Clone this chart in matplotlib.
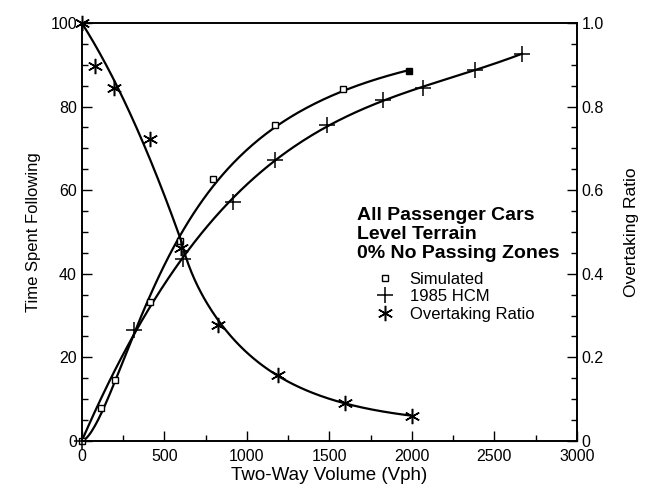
import numpy as np
import matplotlib
matplotlib.use('Agg')
import matplotlib.pyplot as plt
from matplotlib.ticker import MultipleLocator, FuncFormatter

plt.rcParams['font.family'] = ['Liberation Sans', 'DejaVu Sans']

# simulated time spent following (%)
sim_vol = [0, 115, 200, 412, 594, 794, 1170, 1582, 1980]
sim_tsf = [0, 7.9, 14.5, 33.3, 47.8, 62.6, 75.6, 84.2, 88.5]

# 1985 HCM time spent following (%)
hcm_vol = [0, 315, 612, 915, 1170, 1485, 1824, 2067, 2382, 2667]
hcm_tsf = [0, 26.6, 43.5, 57.2, 67.2, 75.6, 81.6, 84.4, 88.8, 92.6]

# overtaking ratio
ot_vol = [0, 79, 194, 412, 600, 824, 1188, 1594, 2000]
ot_ratio = [1.0, 0.897, 0.845, 0.722, 0.462, 0.278, 0.158, 0.091, 0.060]


def powfit(x, y, powers):
    # least squares on the given powers of x (x in thousands), no extra intercept
    A = np.column_stack([x ** p for p in powers])
    coef = np.linalg.lstsq(A, y, rcond=None)[0]
    return lambda t: np.column_stack([t ** p for p in powers]) @ coef


def hillfit(x, y, w):
    # y = a * x^n / (k^n + x^n), grid over n and k, a by weighted least squares
    best = None
    for n in np.linspace(1.0, 1.6, 25):
        for k in np.linspace(0.2, 2.0, 181):
            g = x ** n / (k ** n + x ** n)
            a = (w * g @ y) / (w * g @ g)
            r = np.sum(w * (a * g - y) ** 2)
            if best is None or r < best[0]:
                best = (r, a, n, k)
    _, a, n, k = best
    return lambda t: a * t ** n / (k ** n + t ** n)


fig = plt.figure(figsize=(6.49, 4.98), dpi=100)
ax = fig.add_axes([0.126, 0.1145, 0.763, 0.8395])
ax2 = ax.twinx()

lw = 1.6
# smooth fitted curves
wts = np.ones(len(sim_vol))
wts[-1] = 6.0
f = hillfit(np.array(sim_vol) / 1000.0, np.array(sim_tsf), wts)
xx = np.linspace(0, max(sim_vol), 200)
ax.plot(xx, f(xx / 1000.0), color='black', lw=lw)

f = powfit(np.array(hcm_vol) / 1000.0, np.array(hcm_tsf), [1, 2, 3])
xx = np.linspace(0, max(hcm_vol), 200)
ax.plot(xx, f(xx / 1000.0), color='black', lw=lw)

ov = np.array(ot_vol) / 1000.0
orr = np.array(ot_ratio)
first = ov <= 0.6
fa = powfit(ov[first], orr[first] - 1.0, [1, 2])
last = ov >= 0.6
c2 = np.polyfit(ov[last], np.log(orr[last]), 2)
xa = np.linspace(0, 0.6, 100)
ya = 1.0 + fa(xa)
xb = np.linspace(0.6, ov.max(), 150)
yb = np.exp(np.polyval(c2, xb))
yb = yb + (ya[-1] - yb[0]) * np.exp(-(xb - 0.6) / 0.05)
ax2.plot(np.concatenate([xa, xb]) * 1000, np.concatenate([ya, yb]), color='black', lw=lw)

# markers
h1, = ax.plot(sim_vol[:-1], sim_tsf[:-1], ls='none', marker='s', ms=5,
              mfc='white', mec='black', mew=1.0, label='Simulated', clip_on=False)
ax.plot(sim_vol[-1:], sim_tsf[-1:], ls='none', marker='s', ms=5,
        mfc='black', mec='black')
h2, = ax.plot(hcm_vol, hcm_tsf, ls='none', marker='+', ms=11, mew=1.1,
              color='black', label='1985 HCM', clip_on=False)
h3, = ax2.plot(ot_vol, ot_ratio, ls='none', marker=(6, 2, 0), ms=11, mew=1.1,
               color='black', label='Overtaking Ratio', clip_on=False)

ax.set_xlim(0, 3000)
ax.set_ylim(0, 100)
ax2.set_ylim(0, 1.0)

ax.xaxis.set_major_locator(MultipleLocator(500))
ax.xaxis.set_minor_locator(MultipleLocator(250))
ax.yaxis.set_major_locator(MultipleLocator(20))
ax.yaxis.set_minor_locator(MultipleLocator(5))
ax2.yaxis.set_major_locator(MultipleLocator(0.2))
ax2.yaxis.set_minor_locator(MultipleLocator(0.05))
ax2.yaxis.set_major_formatter(FuncFormatter(lambda v, p: '0' if abs(v) < 1e-9 else '%.1f' % v))

for a in (ax, ax2):
    a.tick_params(which='major', direction='in', length=7, width=1, labelsize=11.5)
    a.tick_params(which='minor', direction='in', length=4, width=1)
ax.tick_params(axis='x', top=False, which='both', pad=6)
ax.tick_params(axis='y', right=False, which='both')
for a in (ax, ax2):
    for s in a.spines.values():
        s.set_linewidth(1.2)

ax.set_xlabel('Two-Way Volume (Vph)', fontsize=13.5, labelpad=2)
ax.set_ylabel('Time Spent Following', fontsize=12, labelpad=7)
ax2.set_ylabel('Overtaking Ratio', fontsize=12.5, labelpad=14)

ax.text(0.555, 0.56, 'All Passenger Cars\nLevel Terrain\n0% No Passing Zones',
        transform=ax.transAxes, fontsize=14, fontweight='bold',
        linespacing=1.15, va='top', ha='left')

ax.legend(handles=[h1, h2, h3], loc='upper left', bbox_to_anchor=(0.595, 0.405),
          frameon=False, fontsize=12, handlelength=1.0, handletextpad=1.0,
          labelspacing=0.15, borderpad=0, borderaxespad=0)

fig.savefig('out.png', dpi=100)
